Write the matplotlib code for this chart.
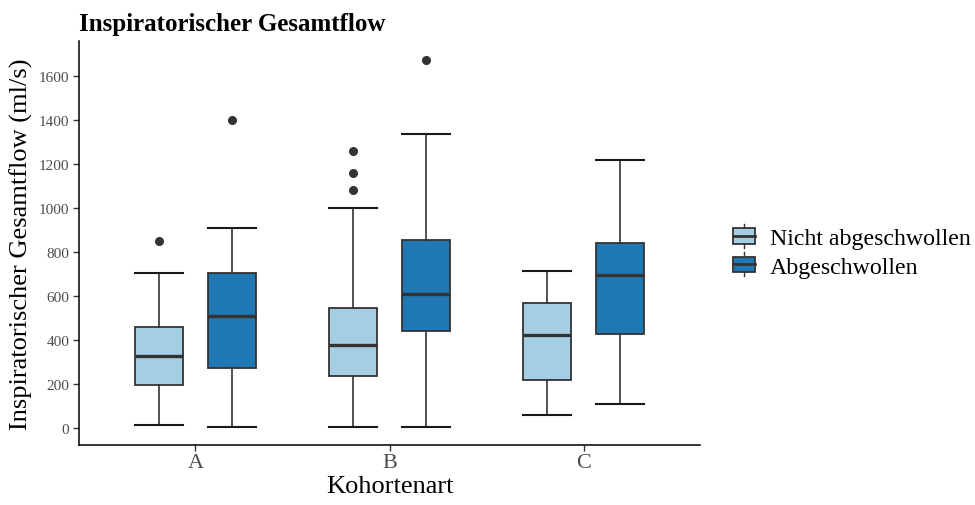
import matplotlib
matplotlib.use("Agg")
import matplotlib.pyplot as plt
from matplotlib.patches import Rectangle
from matplotlib.lines import Line2D
from matplotlib.legend_handler import HandlerBase

plt.rcParams['font.family'] = ['Liberation Serif', 'DejaVu Serif']

groups = ['A', 'B', 'C']
series = ['Nicht abgeschwollen', 'Abgeschwollen']
colors = ['#A6CEE3', '#1F78B4']

nicht_whislo = [14, 5, 59]
nicht_q1 = [195, 236, 218]
nicht_med = [327, 377, 423]
nicht_q3 = [459, 545, 568]
nicht_whishi = [704, 1000, 714]
nicht_fliers = [[850], [1082, 1159, 1259], []]

abg_whislo = [5, 5, 109]
abg_q1 = [273, 441, 427]
abg_med = [509, 609, 695]
abg_q3 = [704, 855, 841]
abg_whishi = [909, 1336, 1218]
abg_fliers = [[1400], [1673], []]

yticks = [0, 200, 400, 600, 800, 1000, 1200, 1400, 1600]

fig = plt.figure(figsize=(9.75, 5.06), dpi=100)
ax = fig.add_axes([0.081, 0.1186, 0.637, 0.798])

edge = '#333333'
data_sets = [
    (nicht_whislo, nicht_q1, nicht_med, nicht_q3, nicht_whishi, nicht_fliers),
    (abg_whislo, abg_q1, abg_med, abg_q3, abg_whishi, abg_fliers),
]
offsets = [-0.1875, 0.1875]
bw = 0.25
for s, (lo, q1, med, q3, hi, fl) in enumerate(data_sets):
    stats = []
    for i in range(len(groups)):
        stats.append(dict(whislo=lo[i], q1=q1[i], med=med[i], q3=q3[i],
                          whishi=hi[i], fliers=fl[i], label=''))
    pos = [i + 1 + offsets[s] for i in range(len(groups))]
    ax.bxp(stats, positions=pos, widths=bw, capwidths=bw, patch_artist=True,
           showfliers=True, manage_ticks=False,
           boxprops=dict(facecolor=colors[s], edgecolor=edge, linewidth=1.3),
           medianprops=dict(color=edge, linewidth=2.4, solid_capstyle='butt'),
           whiskerprops=dict(color=edge, linewidth=1.2),
           capprops=dict(color='#1a1a1a', linewidth=1.5),
           flierprops=dict(marker='o', markerfacecolor=edge, markeredgecolor=edge,
                           markersize=5.5, linestyle='none'))

ax.set_xlim(0.4, 3.6)
ax.set_ylim(-77, 1759)
ax.set_xticks([1, 2, 3])
ax.set_xticklabels(groups, fontsize=16, color='#4D4D4D')
ax.set_yticks(yticks)
ax.set_yticklabels([str(v) for v in yticks], fontsize=11, color='#4D4D4D')
for sp in ['top', 'right']:
    ax.spines[sp].set_visible(False)
for sp in ['left', 'bottom']:
    ax.spines[sp].set_linewidth(1.1)
    ax.spines[sp].set_color('black')
ax.tick_params(axis='both', length=4, width=1.0, color='#333333')
ax.tick_params(axis='y', pad=3)
ax.tick_params(axis='x', pad=2)

ax.set_xlabel('Kohortenart', fontsize=19, labelpad=2)
ax.set_ylabel('Inspiratorischer Gesamtflow (ml/s)', fontsize=19, labelpad=4)
ax.set_title('Inspiratorischer Gesamtflow', fontsize=18, fontweight='bold',
             loc='left', pad=8)


class BoxHandler(HandlerBase):
    def create_artists(self, legend, orig_handle, xdescent, ydescent,
                       width, height, fontsize, trans):
        fc = orig_handle.get_facecolor()
        cx = -xdescent + width / 2
        x0 = -xdescent
        w = width
        y0 = -ydescent + height * 0.1
        h = height * 0.8
        arts = []
        arts.append(Line2D([cx, cx], [-ydescent - height * 0.12, y0], color=edge,
                           linewidth=1.0, transform=trans))
        arts.append(Line2D([cx, cx], [y0 + h, -ydescent + height * 1.12], color=edge,
                           linewidth=1.0, transform=trans))
        arts.append(Rectangle((x0, y0), w, h, facecolor=fc, edgecolor=edge,
                              linewidth=1.3, transform=trans))
        arts.append(Line2D([x0, x0 + w], [y0 + h / 2, y0 + h / 2], color=edge,
                           linewidth=2.0, transform=trans))
        return arts


handles = [Rectangle((0, 0), 1, 1, facecolor=c) for c in colors]
leg = fig.legend(handles, series, handler_map={Rectangle: BoxHandler()},
                 loc='center left', bbox_to_anchor=(0.752, 0.5),
                 frameon=False, fontsize=17.2, handlelength=0.92, handleheight=0.88,
                 handletextpad=0.6, labelspacing=0.22, borderpad=0.0,
                 borderaxespad=0.0)

fig.savefig('out.png', dpi=100)
